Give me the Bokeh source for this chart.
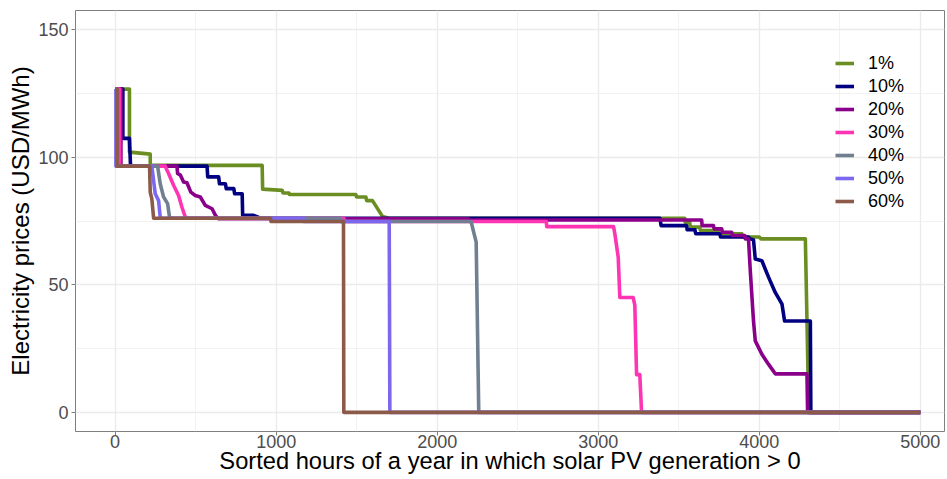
from bokeh.plotting import figure
from bokeh.models import Range1d, FixedTicker, Legend, LegendItem
from bokeh.embed import file_html
from bokeh.resources import INLINE

# ---------------- data ----------------
labels = ["1%", "10%", "20%", "30%", "40%", "50%", "60%"]
colors = ["#6B8E23", "#000080", "#8B008B", "#FF34B3", "#708090", "#7B68EE", "#8B5A48"]

x_ticks = [0, 1000, 2000, 3000, 4000, 5000]
x_minor = [500, 1500, 2500, 3500, 4500]
y_ticks = [0, 50, 100, 150]
y_minor = [25, 75, 125]

hours_1 = [0, 89, 89, 187, 218, 218, 913, 916, 1038, 1042, 1079, 1083, 1494, 1500, 1557, 1562, 1598, 1660,
           1700, 3537, 3540, 3568, 3571, 3630, 3634, 3746, 3750, 3892, 3896, 4000, 4010, 4286, 4296, 4307, 5000]
price_1 = [126.7, 126.7, 102.0, 101.4, 101.2, 96.8, 96.8, 87.5, 87.0, 86.0, 86.0, 85.4, 85.4, 84.4, 84.4, 83.0, 83.0, 76.8,
           76.1, 76.1, 74.5, 74.5, 72.6, 72.6, 71.3, 71.3, 70.0, 70.0, 68.7, 68.7, 68.0, 68.0, 36.0, 0.0, 0.0]

hours_10 = [0, 48, 48, 89, 95, 100, 571, 575, 643, 648, 685, 690, 737, 742, 789, 792, 860, 892, 900,
            3383, 3390, 3549, 3552, 3600, 3605, 3755, 3760, 3933, 3940, 3964, 3975, 4016, 4058, 4099, 4141, 4157,
            4317, 4320, 5000]
price_10 = [126.7, 126.7, 107.4, 107.4, 97.5, 96.5, 96.5, 92.3, 92.3, 89.6, 89.6, 87.7, 87.7, 85.7, 85.7, 77.2, 77.2, 76.4, 76.1,
            76.1, 73.2, 73.2, 71.6, 71.6, 70.0, 70.0, 68.7, 68.7, 68.1, 67.6, 60.1, 59.4, 52.9, 47.0, 42.4, 35.8,
            35.8, 0.0, 0.0]

hours_20 = [0, 36, 36, 384, 388, 405, 425, 446, 470, 498, 529, 560, 602, 623, 640,
            2190, 2192, 3642, 3645, 3715, 3720, 3767, 3770, 3829, 3832, 3910, 3913, 3933, 3944, 3964, 3975, 4016,
            4058, 4099, 4296, 4300, 5000]
price_20 = [126.7, 126.7, 96.5, 96.5, 93.6, 93.0, 90.3, 90.0, 86.3, 85.0, 84.4, 81.1, 79.8, 77.2, 75.9,
            75.9, 75.4, 75.4, 73.2, 73.2, 71.9, 71.9, 70.6, 70.6, 69.3, 69.3, 68.0, 68.0, 55.5, 35.8, 28.0, 22.8,
            18.8, 15.1, 15.1, 0.0, 0.0]

hours_30 = [0, 28, 28, 311, 332, 363, 394, 415, 436, 450, 1420, 1422, 2678, 2680, 3095, 3103, 3124, 3134,
            3217, 3227, 3238, 3258, 3269, 5000]
price_30 = [126.7, 126.7, 96.5, 96.5, 93.6, 89.0, 85.0, 80.4, 76.5, 76.1, 76.1, 74.8, 74.8, 72.8, 72.8, 70.0, 60.8, 45.0,
            45.0, 42.0, 14.8, 14.8, 0.0, 0.0]

hours_40 = [0, 10, 10, 264, 280, 301, 326, 338, 350, 1400, 1402, 2210, 2242, 2258, 5000]
price_40 = [126.7, 126.7, 96.5, 96.5, 89.6, 84.4, 81.8, 76.5, 76.1, 76.1, 74.8, 74.8, 66.7, 0.0, 0.0]

hours_50 = [0, 5, 5, 228, 249, 270, 280, 290, 1170, 1172, 1702, 1706, 5000]
price_50 = [126.7, 126.7, 96.5, 96.5, 85.7, 83.0, 76.5, 76.1, 76.1, 74.8, 74.8, 0.0, 0.0]

hours_60 = [0, 12, 12, 214, 218, 228, 239, 965, 968, 1418, 1420, 5000]
price_60 = [126.7, 126.7, 96.5, 96.5, 86.3, 83.7, 76.1, 76.1, 74.8, 74.8, 0.0, 0.0]

series_hours = [hours_1, hours_10, hours_20, hours_30, hours_40, hours_50, hours_60]
series_price = [price_1, price_10, price_20, price_30, price_40, price_50, price_60]

FONT = "Liberation Sans"

p = figure(width=947, height=479, output_backend="svg", toolbar_location=None,
           x_range=Range1d(-246, 5150), y_range=Range1d(-7.5, 157.5),
           min_border_left=75, min_border_right=3, min_border_top=10, min_border_bottom=48)

p.background_fill_color = "white"
p.border_fill_color = "white"
p.outline_line_color = "#7F7F7F"
p.outline_line_width = 1

# grid
for ax_grid in (p.xgrid, p.ygrid):
    ax_grid.grid_line_color = "#EBEBEB"
    ax_grid.grid_line_width = 1.4
    ax_grid.minor_grid_line_color = "#EFEFEF"
    ax_grid.minor_grid_line_width = 0.8

p.xaxis.ticker = FixedTicker(ticks=x_ticks, minor_ticks=x_minor)
p.yaxis.ticker = FixedTicker(ticks=y_ticks, minor_ticks=y_minor)

for ax in (p.xaxis, p.yaxis):
    ax.axis_line_color = None
    ax.major_tick_line_color = "#7F7F7F"
    ax.major_tick_in = 0
    ax.major_tick_out = 4
    ax.minor_tick_line_color = None
    ax.major_label_text_font = FONT
    ax.major_label_text_font_size = "18px"
    ax.major_label_text_color = "#4D4D4D"
    ax.axis_label_text_font = FONT
    ax.axis_label_text_font_style = "normal"
    ax.axis_label_text_color = "black"

p.xaxis.axis_label = "Sorted hours of a year in which solar PV generation > 0"
p.yaxis.axis_label = "Electricity prices (USD/MWh)"
p.xaxis.axis_label_text_font_size = "23.7px"
p.yaxis.axis_label_text_font_size = "24px"
p.xaxis.major_label_standoff = -1
p.xaxis.axis_label_standoff = -3
p.yaxis.major_label_standoff = 3
p.yaxis.axis_label_standoff = 1

items = []
for lab, col, hx, py in zip(labels, colors, series_hours, series_price):
    r = p.line(hx, py, line_color=col, line_width=3.6, line_join="round", line_cap="butt")
    items.append(LegendItem(label=lab, renderers=[r]))

legend = Legend(items=items, location=(760, 219), margin=0, padding=1,
                spacing=1, glyph_width=19, glyph_height=22, label_standoff=14,
                label_text_font=FONT, label_text_font_size="18px", label_text_color="black",
                border_line_color=None, background_fill_alpha=0)
p.add_layout(legend)

open("out.html", "w").write(file_html(p, INLINE))
